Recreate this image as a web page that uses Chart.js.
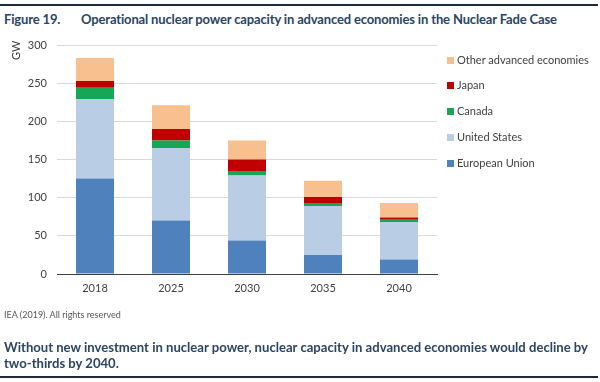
<!DOCTYPE html>
<html>
<head>
<meta charset="utf-8">
<script src="https://cdn.jsdelivr.net/npm/chart.js@4/dist/chart.umd.min.js"></script>
<style>
  html, body { margin: 0; padding: 0; background: #fff; }
  #wrap { position: relative; width: 600px; height: 382px; overflow: hidden; font-family: Lato, "Open Sans", sans-serif; }
  #c { position: absolute; left: 0; top: 0; }
  .rule { position: absolute; left: 0; width: 598px; height: 1.5px; background: #1e2a38; }
  .title { position: absolute; top: 11px; font-weight: bold; font-size: 13px; letter-spacing: -0.15px; color: #2a4464; white-space: nowrap; }
  .note { position: absolute; left: 4px; top: 309px; font-size: 9px; color: #555; white-space: nowrap; }
  .caption { position: absolute; left: 4px; top: 339px; font-weight: bold; font-size: 13.1px; line-height: 16px; color: #2a4464; white-space: nowrap; }
  .gw { position: absolute; left: 9px; top: 60px; font-size: 11px; color: #404040; transform: rotate(-90deg); transform-origin: left top; }
  #legend { position: absolute; left: 447px; top: 0; font-size: 11px; color: #404040; }
  #legend .it { position: absolute; left: 0; white-space: nowrap; height: 14px; line-height: 14px; }
  #legend .sw { position: absolute; left: 0; top: 3.5px; width: 7px; height: 7px; }
  #legend .tx { position: absolute; left: 10px; top: 0; }
</style>
</head>
<body>
<div id="wrap">
  <div class="rule" style="top:4px"></div>
  <div class="title" style="left:4px">Figure 19.</div>
  <div class="title" style="left:81px">Operational nuclear power capacity in advanced economies in the Nuclear Fade Case</div>
  <canvas id="c" width="600" height="382"></canvas>
  <div class="gw">GW</div>
  <div id="legend"></div>
  <div class="note">IEA (2019). All rights reserved</div>
  <div class="caption">Without new investment in nuclear power, nuclear capacity in advanced economies would decline by<br>two-thirds by 2040.</div>
  <div class="rule" style="top:376px"></div>
</div>
<script>
const years = ["2018", "2025", "2030", "2035", "2040"];
const europeanUnion = [125, 70, 44, 25, 19];
const unitedStates = [104, 95, 85, 64, 49];
const canada = [15, 10, 6, 4, 3];
const japan = [9, 15, 15, 8, 3];
const otherAdvanced = [30, 31, 25, 21, 19];
const yTicks = [0, 50, 100, 150, 200, 250, 300];

const seriesNames = ["European Union", "United States", "Canada", "Japan", "Other advanced economies"];
const seriesData = [europeanUnion, unitedStates, canada, japan, otherAdvanced];
const seriesColors = ["#4f81bd", "#b9cde5", "#17a556", "#c00000", "#f9c08f"];

const chart = new Chart(document.getElementById("c"), {
  type: "bar",
  data: {
    labels: years,
    datasets: seriesNames.map((n, i) => ({
      label: n,
      data: seriesData[i],
      backgroundColor: seriesColors[i],
      borderWidth: 0,
      barPercentage: 0.5,
      categoryPercentage: 1.0
    }))
  },
  options: {
    responsive: false,
    animation: false,
    devicePixelRatio: 1,
    layout: { padding: { left: 0, right: 163, top: 45, bottom: 0 } },
    plugins: { legend: { display: false }, tooltip: { enabled: false } },
    scales: {
      x: {
        stacked: true,
        grid: { display: false, drawTicks: false },
        border: { display: true, color: "#404040", width: 1 },
        ticks: { color: "#404040", font: { family: "Lato", size: 11 }, padding: 8 },
        afterFit: s => { s.height = 108; }
      },
      y: {
        stacked: true,
        min: 0, max: 300,
        afterBuildTicks: s => { s.ticks = yTicks.map(v => ({ value: v })); },
        grid: { color: "#d9d9d9", lineWidth: 1, drawTicks: false },
        border: { display: false },
        ticks: { color: "#404040", font: { family: "Lato", size: 11 }, padding: 10 },
        afterFit: s => { s.width = 57; }
      }
    }
  }
});

const legendTops = [156, 130, 104, 78, 53];
const legend = document.getElementById("legend");
chart.data.datasets.forEach((ds, i) => {
  const it = document.createElement("div");
  it.className = "it";
  it.style.top = legendTops[i] + "px";
  it.innerHTML = '<span class="sw" style="background:' + ds.backgroundColor + '"></span><span class="tx"></span>';
  it.querySelector(".tx").textContent = ds.label;
  legend.appendChild(it);
});
</script>
</body>
</html>
